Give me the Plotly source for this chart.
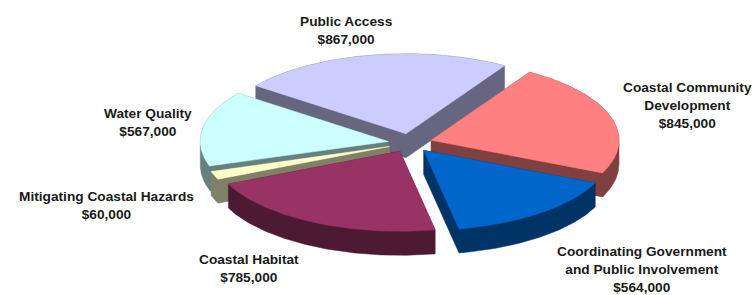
import numpy as np
import plotly.graph_objects as go

# ---- data ----
categories = ["Public Access", "Coastal Community Development",
              "Coordinating Government and Public Involvement",
              "Coastal Habitat", "Mitigating Coastal Hazards", "Water Quality"]
values = [867000, 845000, 564000, 785000, 60000, 567000]
label_text = ["Public Access", "Coastal Community<br>Development",
              "Coordinating Government<br>and Public Involvement",
              "Coastal Habitat", "Mitigating Coastal Hazards", "Water Quality"]

# ---- styles ----
top_colors = ["#CCCCFF", "#FF8080", "#0066CC", "#993366", "#FFFFCC", "#CCFFFF"]
side_colors = ["#666680", "#804040", "#003366", "#4D1A33", "#808066", "#668080"]
label_pos = [(346, 30), (687, 105), (642, 269), (249, 268), (106, 205), (148, 122)]

W, H = 755, 295
CX, CY = 410, 143
RX, RY = 188, 80
DEPTH = 24
EXPLODE = 22
START = 307.0


def hull(points):
    pts = sorted(set(points))
    if len(pts) <= 2:
        return pts

    def cross(o, a, b):
        return (a[0] - o[0]) * (b[1] - o[1]) - (a[1] - o[1]) * (b[0] - o[0])
    lower, upper = [], []
    for p in pts:
        while len(lower) >= 2 and cross(lower[-2], lower[-1], p) <= 0:
            lower.pop()
        lower.append(p)
    for p in reversed(pts):
        while len(upper) >= 2 and cross(upper[-2], upper[-1], p) <= 0:
            upper.pop()
        upper.append(p)
    return lower[:-1] + upper[:-1]


total = float(sum(values))
spans = [v / total * 360.0 for v in values]
starts = START + np.concatenate([[0], np.cumsum(spans)[:-1]])

slices = []
for i, (a0, sp) in enumerate(zip(starts, spans)):
    a1 = a0 + sp
    mid = np.radians(a0 + sp / 2)
    ox = CX + EXPLODE * np.sin(mid)
    oy = CY - EXPLODE * (RY / RX) * np.cos(mid)
    th = np.radians(np.linspace(a0, a1, max(int(sp * 2), 4)))
    xs = np.concatenate([[ox], ox + RX * np.sin(th), [ox]])
    ys = np.concatenate([[oy], oy - RY * np.cos(th), [oy]])
    slices.append((oy, i, xs, ys))

fig = go.Figure()
for oy, i, xs, ys in sorted(slices, key=lambda s: s[0]):
    pts = [(float(x), float(y)) for x, y in zip(xs, ys)] + \
          [(float(x), float(y) + DEPTH) for x, y in zip(xs, ys)]
    h = hull(pts)
    hx = [p[0] for p in h] + [h[0][0]]
    hy = [p[1] for p in h] + [h[0][1]]
    fig.add_trace(go.Scatter(x=hx, y=hy, fill="toself", mode="lines",
                             line=dict(color=side_colors[i], width=0.5),
                             fillcolor=side_colors[i], hoverinfo="skip",
                             showlegend=False))
    fig.add_trace(go.Scatter(x=xs, y=ys, fill="toself", mode="lines",
                             line=dict(color=top_colors[i], width=0.5),
                             fillcolor=top_colors[i], name=categories[i],
                             hovertemplate=categories[i] + ": $%{text}<extra></extra>",
                             text=[f"{values[i]:,}"] * len(xs),
                             showlegend=False))

for i, (lx, ly) in enumerate(label_pos):
    fig.add_annotation(x=lx, y=ly, xref="x", yref="y", showarrow=False,
                       text=f"<b>{label_text[i]}<br>${values[i]:,}</b>",
                       font=dict(family="Liberation Sans, Arial, sans-serif",
                                 size=13.7, color="#1a1a1a"),
                       align="center", xanchor="center", yanchor="middle")

fig.update_layout(width=W, height=H, margin=dict(l=0, r=0, t=0, b=0),
                  paper_bgcolor="white", plot_bgcolor="white",
                  xaxis=dict(range=[0, W], visible=False, fixedrange=True),
                  yaxis=dict(range=[H, 0], visible=False, fixedrange=True))
fig.write_html("out.html", config={"displayModeBar": False},
               post_script="document.body.style.margin='0px';"
                           "document.body.style.overflow='hidden';")
